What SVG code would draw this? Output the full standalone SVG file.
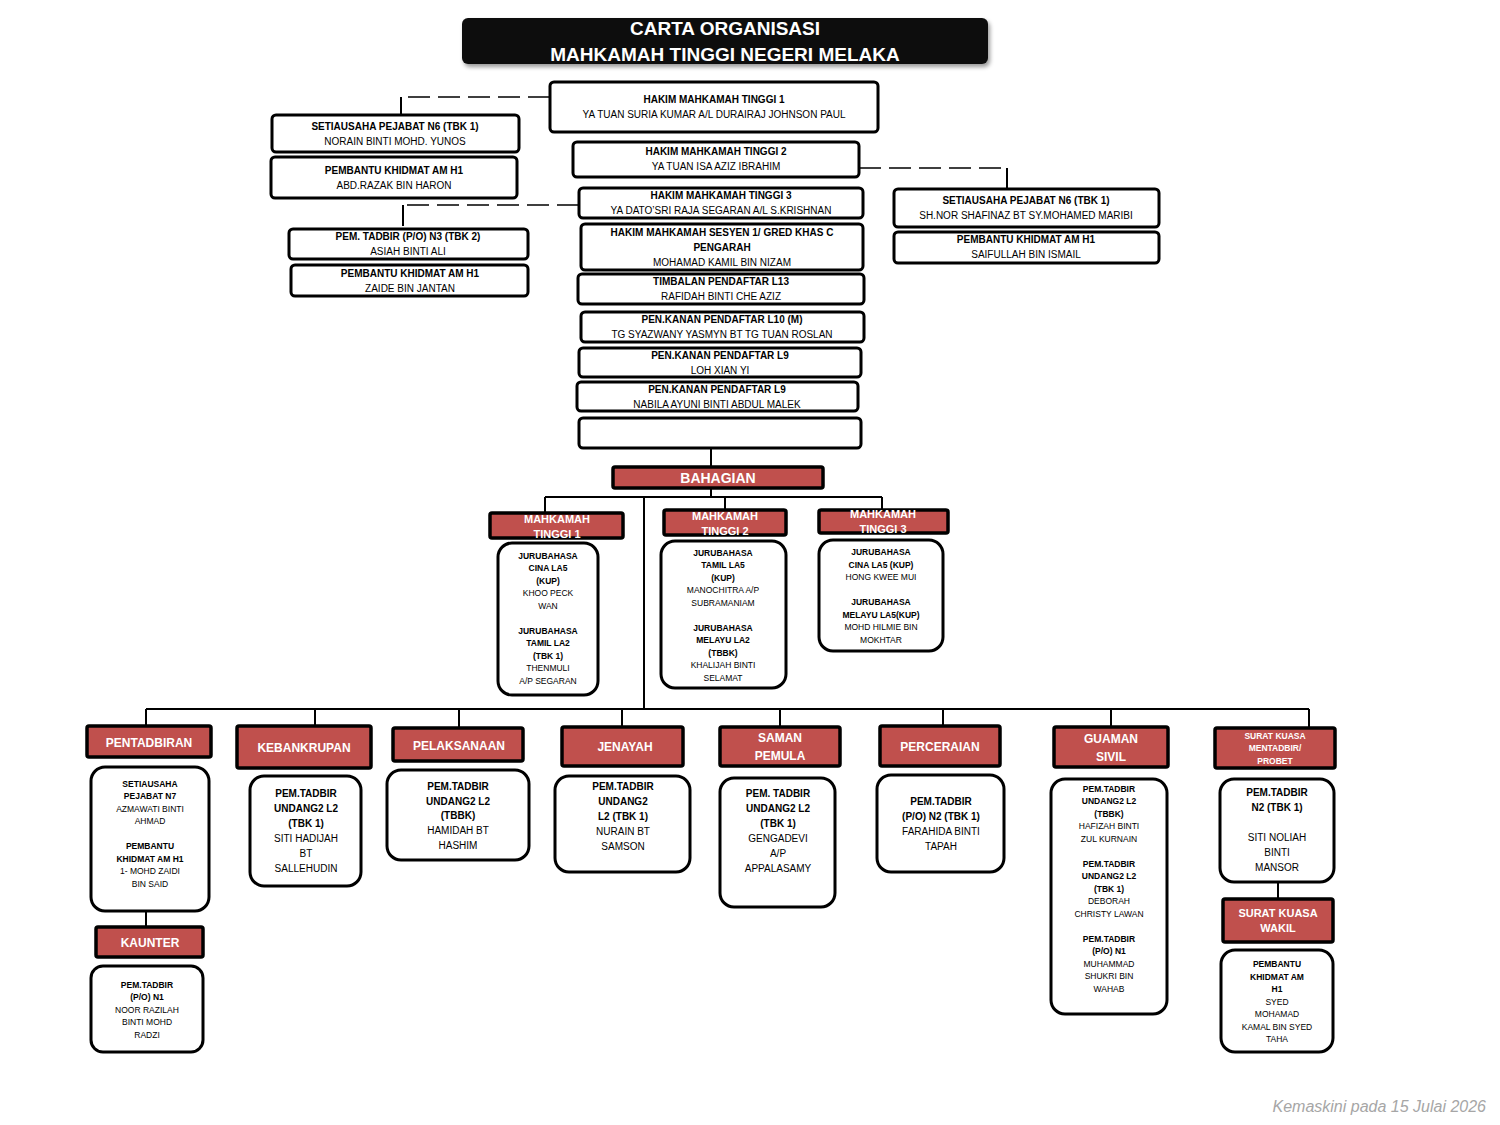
<svg xmlns="http://www.w3.org/2000/svg" width="1500" height="1125" viewBox="0 0 1500 1125">
<defs>
<style>
text{font-family:"Liberation Sans",Arial,sans-serif;text-anchor:middle;fill:#000}
.b{fill:#fff;stroke:#000;stroke-width:3}
.r{fill:#C0504D;stroke:#000;stroke-width:3.5}
.t{font-size:10px}
.s{font-size:8.5px}
.m{font-size:11px}
.bo{font-weight:bold}
.w{fill:#fff;font-weight:bold}
.c{stroke:#000;stroke-width:2;fill:none}
.d{stroke:#000;stroke-width:1.5;fill:none;stroke-dasharray:22,8}
</style>
<filter id="sh" x="-5%" y="-20%" width="110%" height="150%"><feDropShadow dx="2" dy="3" stdDeviation="2" flood-color="#000" flood-opacity="0.4"/></filter>
</defs>
<rect width="1500" height="1125" fill="#fff"/>
<g id="title">
<rect x="462" y="18" width="526" height="46" rx="6" fill="#111" filter="url(#sh)"/>
<text x="725" y="35" class="w" style="font-size:19px">CARTA ORGANISASI</text>
<text x="725" y="61" class="w" style="font-size:19px">MAHKAMAH  TINGGI  NEGERI MELAKA</text>
</g>
<g id="connectors">
<path class="d" d="M550 97H401"/><path class="c" d="M401 97V115"/>
<path class="d" d="M579 205H403"/><path class="c" d="M403 205V226"/>
<path class="d" d="M859 168H1007"/><path class="c" d="M1007 168V189"/>
<path class="c" d="M711 448V467M711 488V497M545 497H882M545 497V513M725 497V510M882 497V510M644 497V708"/>
<path class="c" d="M146 709H1309M146 709V726M315 709V726M459 709V728M622 709V727M780 709V727M943 709V726M1111 709V727M1309 709V728"/>
<path class="c" d="M146 911V927M1278 882V899"/>
</g>
<g id="hmt1"><rect class="b" x="550" y="82" width="328" height="50" rx="4"/><text x="714" y="103" class="t bo">HAKIM MAHKAMAH TINGGI 1</text><text x="714" y="118" class="t">YA TUAN SURIA KUMAR A/L DURAIRAJ JOHNSON PAUL</text></g>
<g id="setia1"><rect class="b" x="272" y="115" width="247" height="37" rx="4"/><text x="395" y="130" class="t bo">SETIAUSAHA PEJABAT N6 (TBK 1)</text><text x="395" y="145" class="t">NORAIN BINTI MOHD. YUNOS</text></g>
<g id="pkam1"><rect class="b" x="271" y="157" width="246" height="41" rx="4"/><text x="394" y="174" class="t bo">PEMBANTU KHIDMAT AM H1</text><text x="394" y="189" class="t">ABD.RAZAK BIN HARON</text></g>
<g id="hmt2"><rect class="b" x="573" y="142" width="286" height="35" rx="4"/><text x="716" y="155" class="t bo">HAKIM MAHKAMAH TINGGI 2</text><text x="716" y="170" class="t">YA TUAN ISA AZIZ IBRAHIM</text></g>
<g id="hmt3"><rect class="b" x="579" y="188" width="284" height="30" rx="4"/><text x="721" y="199" class="t bo">HAKIM MAHKAMAH TINGGI 3</text><text x="721" y="214" class="t">YA DATO’SRI RAJA SEGARAN A/L S.KRISHNAN</text></g>
<g id="hms"><rect class="b" x="581" y="224" width="282" height="46" rx="4"/><text x="722" y="236" class="t bo">HAKIM MAHKAMAH SESYEN 1/  GRED KHAS C</text><text x="722" y="251" class="t bo">PENGARAH</text><text x="722" y="266" class="t">MOHAMAD KAMIL BIN NIZAM</text></g>
<g id="timb"><rect class="b" x="578" y="274" width="286" height="30" rx="4"/><text x="721" y="285" class="t bo">TIMBALAN PENDAFTAR L13</text><text x="721" y="300" class="t">RAFIDAH BINTI CHE AZIZ</text></g>
<g id="pk10"><rect class="b" x="581" y="312" width="283" height="30" rx="4"/><text x="722" y="323" class="t bo">PEN.KANAN PENDAFTAR L10 (M)</text><text x="722" y="338" class="t">TG SYAZWANY YASMYN BT TG TUAN ROSLAN</text></g>
<g id="pk9a"><rect class="b" x="579" y="348" width="282" height="29" rx="4"/><text x="720" y="359" class="t bo">PEN.KANAN PENDAFTAR L9</text><text x="720" y="374" class="t">LOH XIAN YI</text></g>
<g id="pk9b"><rect class="b" x="577" y="382" width="281" height="29" rx="4"/><text x="717" y="393" class="t bo">PEN.KANAN PENDAFTAR  L9</text><text x="717" y="408" class="t">NABILA AYUNI BINTI ABDUL MALEK</text></g>
<g id="empty"><rect class="b" x="579" y="418" width="282" height="30" rx="4"/></g>
<g id="ptn3"><rect class="b" x="289" y="229" width="239" height="30" rx="4"/><text x="408" y="240" class="t bo">PEM. TADBIR (P/O) N3 (TBK 2)</text><text x="408" y="255" class="t">ASIAH BINTI ALI</text></g>
<g id="pkam2"><rect class="b" x="291" y="265" width="237" height="31" rx="4"/><text x="410" y="277" class="t bo">PEMBANTU KHIDMAT AM H1</text><text x="410" y="292" class="t">ZAIDE BIN JANTAN</text></g>
<g id="setia2"><rect class="b" x="894" y="189" width="265" height="38" rx="4"/><text x="1026" y="204" class="t bo">SETIAUSAHA PEJABAT N6 (TBK 1)</text><text x="1026" y="219" class="t">SH.NOR SHAFINAZ BT SY.MOHAMED MARIBI</text></g>
<g id="pkam3"><rect class="b" x="894" y="232" width="265" height="31" rx="4"/><text x="1026" y="243" class="t bo">PEMBANTU KHIDMAT AM H1</text><text x="1026" y="258" class="t">SAIFULLAH BIN ISMAIL</text></g>
<g id="bahagian"><rect class="r" x="613" y="467" width="210" height="21" rx="2"/><text x="718" y="483" class="w" style="font-size:14px">BAHAGIAN</text></g>
<g id="mt1"><rect class="r" x="490" y="513" width="133" height="25" rx="2"/><text x="557" y="523" class="w m">MAHKAMAH</text><text x="557" y="538" class="w m">TINGGI 1</text>
<rect class="b" x="498" y="543" width="100" height="152" rx="14"/>
<text class="s" x="548"><tspan x="548" y="559" class="bo">JURUBAHASA</tspan><tspan x="548" y="571" class="bo">CINA LA5</tspan><tspan x="548" y="584" class="bo">(KUP)</tspan><tspan x="548" y="596">KHOO PECK</tspan><tspan x="548" y="609">WAN</tspan><tspan x="548" y="634" class="bo">JURUBAHASA</tspan><tspan x="548" y="646" class="bo">TAMIL LA2</tspan><tspan x="548" y="659" class="bo">(TBK 1)</tspan><tspan x="548" y="671">THENMULI</tspan><tspan x="548" y="684">A/P SEGARAN</tspan></text></g>
<g id="mt2"><rect class="r" x="664" y="510" width="122" height="25" rx="2"/><text x="725" y="520" class="w m">MAHKAMAH</text><text x="725" y="535" class="w m">TINGGI 2</text>
<rect class="b" x="661" y="541" width="125" height="147" rx="14"/>
<text class="s"><tspan x="723" y="556" class="bo">JURUBAHASA</tspan><tspan x="723" y="568" class="bo">TAMIL LA5</tspan><tspan x="723" y="581" class="bo">(KUP)</tspan><tspan x="723" y="593">MANOCHITRA A/P</tspan><tspan x="723" y="606">SUBRAMANIAM</tspan><tspan x="723" y="631" class="bo">JURUBAHASA</tspan><tspan x="723" y="643" class="bo">MELAYU  LA2</tspan><tspan x="723" y="656" class="bo">(TBBK)</tspan><tspan x="723" y="668">KHALIJAH BINTI</tspan><tspan x="723" y="681">SELAMAT</tspan></text></g>
<g id="mt3"><rect class="r" x="819" y="510" width="129" height="23" rx="2"/><text x="883" y="518" class="w m">MAHKAMAH</text><text x="883" y="533" class="w m">TINGGI 3</text>
<rect class="b" x="819" y="540" width="124" height="111" rx="14"/>
<text class="s"><tspan x="881" y="555" class="bo">JURUBAHASA</tspan><tspan x="881" y="568" class="bo">CINA LA5 (KUP)</tspan><tspan x="881" y="580">HONG KWEE MUI</tspan><tspan x="881" y="605" class="bo">JURUBAHASA</tspan><tspan x="881" y="618" class="bo">MELAYU LA5(KUP)</tspan><tspan x="881" y="630">MOHD HILMIE BIN</tspan><tspan x="881" y="643">MOKHTAR</tspan></text></g>
<g id="pentadbiran"><rect class="r" x="87" y="726" width="124" height="31" rx="2"/><text x="149" y="747" class="w" style="font-size:12px">PENTADBIRAN</text>
<rect class="b" x="91" y="767" width="118" height="144" rx="14"/>
<text class="s"><tspan x="150" y="787" class="bo">SETIAUSAHA</tspan><tspan x="150" y="799" class="bo">PEJABAT N7</tspan><tspan x="150" y="812">AZMAWATI BINTI</tspan><tspan x="150" y="824">AHMAD</tspan><tspan x="150" y="849" class="bo">PEMBANTU</tspan><tspan x="150" y="862" class="bo">KHIDMAT AM H1</tspan><tspan x="150" y="874">1- MOHD ZAIDI</tspan><tspan x="150" y="887">BIN SAID</tspan></text></g>
<g id="kaunter"><rect class="r" x="96" y="927" width="107" height="30" rx="2"/><text x="150" y="947" class="w" style="font-size:12px">KAUNTER</text>
<rect class="b" x="91" y="966" width="112" height="86" rx="12"/>
<text class="s"><tspan x="147" y="988" class="bo">PEM.TADBIR</tspan><tspan x="147" y="1000" class="bo">(P/O) N1</tspan><tspan x="147" y="1013">NOOR RAZILAH</tspan><tspan x="147" y="1025">BINTI MOHD</tspan><tspan x="147" y="1038">RADZI</tspan></text></g>
<g id="kebankrupan"><rect class="r" x="237" y="726" width="134" height="42" rx="2"/><text x="304" y="752" class="w" style="font-size:12px">KEBANKRUPAN</text>
<rect class="b" x="250" y="776" width="111" height="110" rx="14"/>
<text class="t"><tspan x="306" y="797" class="bo">PEM.TADBIR</tspan><tspan x="306" y="812" class="bo">UNDANG2 L2</tspan><tspan x="306" y="827" class="bo">(TBK 1)</tspan><tspan x="306" y="842">SITI HADIJAH</tspan><tspan x="306" y="857">BT</tspan><tspan x="306" y="872">SALLEHUDIN</tspan></text></g>
<g id="pelaksanaan"><rect class="r" x="393" y="728" width="130" height="33" rx="2"/><text x="459" y="750" class="w" style="font-size:12px">PELAKSANAAN</text>
<rect class="b" x="387" y="770" width="142" height="90" rx="14"/>
<text class="t"><tspan x="458" y="790" class="bo">PEM.TADBIR</tspan><tspan x="458" y="805" class="bo">UNDANG2  L2</tspan><tspan x="458" y="819" class="bo">(TBBK)</tspan><tspan x="458" y="834">HAMIDAH BT</tspan><tspan x="458" y="849">HASHIM</tspan></text></g>
<g id="jenayah"><rect class="r" x="562" y="727" width="121" height="39" rx="2"/><text x="625" y="751" class="w" style="font-size:12px">JENAYAH</text>
<rect class="b" x="555" y="776" width="135" height="96" rx="14"/>
<text class="t"><tspan x="623" y="790" class="bo">PEM.TADBIR</tspan><tspan x="623" y="805" class="bo">UNDANG2</tspan><tspan x="623" y="820" class="bo">L2 (TBK 1)</tspan><tspan x="623" y="835">NURAIN BT</tspan><tspan x="623" y="850">SAMSON</tspan></text></g>
<g id="saman"><rect class="r" x="720" y="727" width="120" height="39" rx="2"/><text x="780" y="742" class="w" style="font-size:12px">SAMAN</text><text x="780" y="760" class="w" style="font-size:12px">PEMULA</text>
<rect class="b" x="720" y="778" width="115" height="129" rx="14"/>
<text class="t"><tspan x="778" y="797" class="bo">PEM. TADBIR</tspan><tspan x="778" y="812" class="bo">UNDANG2 L2</tspan><tspan x="778" y="827" class="bo">(TBK 1)</tspan><tspan x="778" y="842">GENGADEVI</tspan><tspan x="778" y="857">A/P</tspan><tspan x="778" y="872">APPALASAMY</tspan></text></g>
<g id="perceraian"><rect class="r" x="880" y="726" width="120" height="40" rx="2"/><text x="940" y="751" class="w" style="font-size:12px">PERCERAIAN</text>
<rect class="b" x="877" y="775" width="127" height="97" rx="14"/>
<text class="t"><tspan x="941" y="805" class="bo">PEM.TADBIR</tspan><tspan x="941" y="820" class="bo">(P/O) N2 (TBK 1)</tspan><tspan x="941" y="835">FARAHIDA BINTI</tspan><tspan x="941" y="850">TAPAH</tspan></text></g>
<g id="guaman"><rect class="r" x="1054" y="727" width="114" height="40" rx="2"/><text x="1111" y="743" class="w" style="font-size:12px">GUAMAN</text><text x="1111" y="761" class="w" style="font-size:12px">SIVIL</text>
<rect class="b" x="1051" y="779" width="116" height="235" rx="14"/>
<text class="s"><tspan x="1109" y="792" class="bo">PEM.TADBIR</tspan><tspan x="1109" y="804" class="bo">UNDANG2 L2</tspan><tspan x="1109" y="817" class="bo">(TBBK)</tspan><tspan x="1109" y="829">HAFIZAH BINTI</tspan><tspan x="1109" y="842">ZUL KURNAIN</tspan><tspan x="1109" y="867" class="bo">PEM.TADBIR</tspan><tspan x="1109" y="879" class="bo">UNDANG2 L2</tspan><tspan x="1109" y="892" class="bo">(TBK 1)</tspan><tspan x="1109" y="904">DEBORAH</tspan><tspan x="1109" y="917">CHRISTY LAWAN</tspan><tspan x="1109" y="942" class="bo">PEM.TADBIR</tspan><tspan x="1109" y="954" class="bo">(P/O) N1</tspan><tspan x="1109" y="967">MUHAMMAD</tspan><tspan x="1109" y="979">SHUKRI BIN</tspan><tspan x="1109" y="992">WAHAB</tspan></text></g>
<g id="probet"><rect class="r" x="1215" y="728" width="120" height="40" rx="2"/><text class="w" style="font-size:8.5px"><tspan x="1275" y="739">SURAT KUASA</tspan><tspan x="1275" y="751">MENTADBIR/</tspan><tspan x="1275" y="764">PROBET</tspan></text>
<rect class="b" x="1220" y="779" width="114" height="103" rx="14"/>
<text class="t"><tspan x="1277" y="796" class="bo">PEM.TADBIR</tspan><tspan x="1277" y="811" class="bo">N2 (TBK 1)</tspan><tspan x="1277" y="841">SITI NOLIAH</tspan><tspan x="1277" y="856">BINTI</tspan><tspan x="1277" y="871">MANSOR</tspan></text></g>
<g id="wakil"><rect class="r" x="1223" y="899" width="110" height="43" rx="2"/><text x="1278" y="917" class="w m">SURAT KUASA</text><text x="1278" y="932" class="w m">WAKIL</text>
<rect class="b" x="1221" y="950" width="112" height="102" rx="14"/>
<text class="s"><tspan x="1277" y="967" class="bo">PEMBANTU</tspan><tspan x="1277" y="980" class="bo">KHIDMAT AM</tspan><tspan x="1277" y="992" class="bo">H1</tspan><tspan x="1277" y="1005">SYED</tspan><tspan x="1277" y="1017">MOHAMAD</tspan><tspan x="1277" y="1030">KAMAL BIN SYED</tspan><tspan x="1277" y="1042">TAHA</tspan></text></g>
<text x="1486" y="1112" style="text-anchor:end;font-size:16px;font-style:italic;fill:#a6a6a6">Kemaskini pada  15 Julai 2026</text>
</svg>
